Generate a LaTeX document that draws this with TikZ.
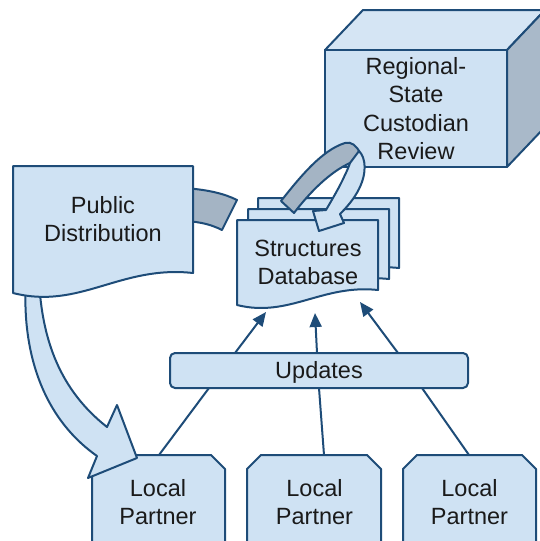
\documentclass[tikz,border=0pt]{standalone}
\usepackage{fontspec}
\setmainfont{Liberation Sans}
\usetikzlibrary{arrows.meta}
\definecolor{fillblue}{HTML}{CFE2F3}
\definecolor{edgeblue}{HTML}{1E4C78}
\definecolor{bandgray}{HTML}{A4B4C4}
\definecolor{sidegray}{HTML}{A9B9C9}
\definecolor{topblue}{HTML}{D5E5F4}
\definecolor{txt}{HTML}{1A1A1A}
\begin{document}
\begin{tikzpicture}[x=1pt,y=-1pt,
  shp/.style={draw=edgeblue, fill=fillblue, line width=2pt, line join=round},
  band/.style={draw=edgeblue, fill=bandgray, line width=2pt, line join=round},
  lbl/.style={text=txt, font=\fontsize{23.5}{28.5}\selectfont, align=center, inner sep=0pt},
  conn/.style={draw=edgeblue, line width=2pt},
  tipend/.style={-{Triangle[length=14pt,width=12pt]}}
]
\useasboundingbox (0,0) rectangle (540,541);
\clip (0,0) rectangle (540,541);

% cube
\draw[shp, fill=topblue] (325,50) -- (363,10) -- (545,10) -- (507,50) -- cycle;
\draw[shp, fill=sidegray] (507,50) -- (545,10) -- (545,127) -- (507,167) -- cycle;
\draw[shp] (325,50) rectangle (507,167);
\node[lbl] (review) at (416,108.5) {Regional-\\State\\Custodian\\Review};

% gray band from public distribution
\draw[band] (185,188) .. controls (210,190) and (225,194) .. (237,200) -- (222,230) .. controls (212,225) and (202,222) .. (185,221) -- cycle;

% local partner boxes
\draw[shp] (92,560) -- (92,469) -- (106,455) -- (211,455) -- (225,469) -- (225,560) -- cycle;
\draw[shp] (247,560) -- (247,469) -- (261,455) -- (367,455) -- (381,469) -- (381,560) -- cycle;
\draw[shp] (403,560) -- (403,469) -- (417,455) -- (522,455) -- (536,469) -- (536,560) -- cycle;
\node[lbl] (lp1) at (158,502) {Local\\Partner};
\node[lbl] (lp2) at (314.5,502) {Local\\Partner};
\node[lbl] (lp3) at (469.5,502) {Local\\Partner};

% big arrow to first local partner
\draw[shp] (26,280) .. controls (22,340) and (36,413) .. (97,456) -- (88,478) -- (137,458) -- (117,405) -- (107,427) .. controls (60,390) and (42,340) .. (39,280) -- cycle;

% public distribution
\draw[shp] (13,166) -- (193,166) -- (193,273) .. controls (120,265) and (80,310) .. (13,293) -- cycle;
\node[lbl] (pub) at (103,219) {Public\\Distribution};

% database stack
\foreach \dx/\dy in {21/-22, 11/-11, 0/0} {
  \draw[shp, shift={(\dx,\dy)}] (237,220) -- (378,220) -- (378,290) .. controls (322,284) and (289,318) .. (237,305) -- cycle;
}
\node[lbl] (db) at (308,262.5) {Structures\\Database};

% loop arrow
\draw[band] (281,201) .. controls (300,177) and (322,150) .. (345,143) .. controls (351,141) and (357,146) .. (360,153) -- (350,163) .. controls (330,172) and (310,192) .. (294,213) -- cycle;
\draw[shp] (359,151) .. controls (366,158) and (367,173) .. (359,189) .. controls (354,199) and (347,207) .. (340,214) -- (344,223) -- (319,231) -- (313,211) -- (326,210) .. controls (333,198) and (340,186) .. (344,177) .. controls (347,171) and (349,166) .. (350,163) -- cycle;

% updates
\node[shp, rounded corners=5pt, minimum width=298pt, minimum height=35pt, text height=16.5pt, text depth=0pt, inner sep=0pt, font=\fontsize{23.5}{28.5}\selectfont, text=txt] (upd) at (319,370.5) {Updates};

% connector points
\coordinate (upA) at (235,353);
\coordinate (upB) at (317,353);
\coordinate (upC) at (398,353);
\coordinate (dbA) at (266,312);
\coordinate (dbB) at (315,313);
\coordinate (dbC) at (360,302);
\coordinate (loA) at (209,388);
\coordinate (loB) at (319,388);
\coordinate (loC) at (422,388);
\coordinate (lpA) at (159,455);
\coordinate (lpB) at (324,455);
\coordinate (lpC) at (469,455);

\draw[conn, tipend] (upA) -- (dbA);
\draw[conn, tipend] (upB) -- (dbB);
\draw[conn, tipend] (upC) -- (dbC);
\draw[conn] (lpA) -- (loA);
\draw[conn] (lpB) -- (loB);
\draw[conn] (lpC) -- (loC);
\end{tikzpicture}
\end{document}
